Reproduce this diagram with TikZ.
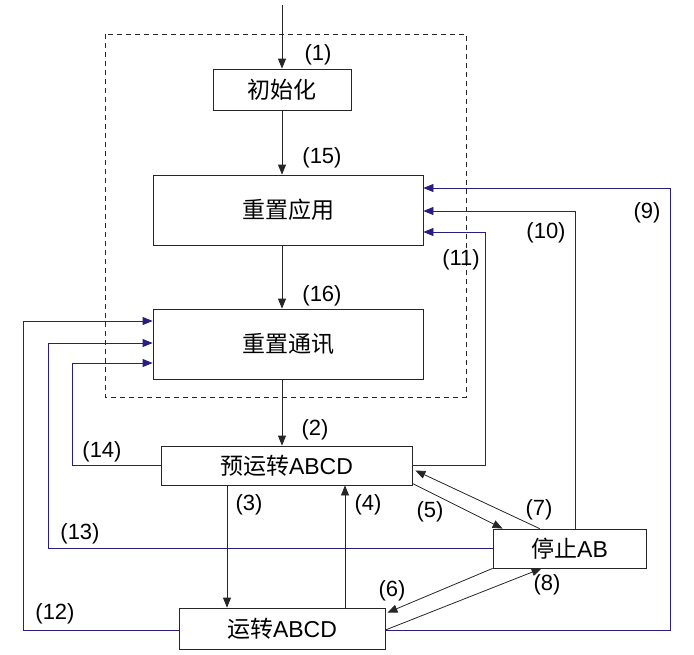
\documentclass[tikz,border=0pt]{standalone}
\usepackage{fontspec}
\setmainfont{Liberation Sans}
\newfontfamily\cjk{Noto Sans CJK SC}
\usetikzlibrary{arrows.meta,calc}
\definecolor{navy}{RGB}{40,30,130}
\begin{document}
\begin{tikzpicture}[x=1pt,y=-1pt,
  box/.style={draw=black!85,line width=0.8pt,inner sep=0pt,font=\fontsize{23}{27}\selectfont},
  lab/.style={inner sep=0pt,font=\fontsize{22}{26}\selectfont},
  arr/.style={draw=black!85,line width=0.8pt,-{Triangle[length=10pt,width=8pt]}},
  blu/.style={draw=navy,line width=0.8pt,-{Triangle[length=10pt,width=8pt]}}]
\useasboundingbox (0,0) rectangle (694,654);
% dashed group
\draw[black!85,line width=0.7pt,dash pattern=on 5pt off 4pt] (105,34) rectangle (466,397);
% boxes
\node[box,minimum width=138pt,minimum height=41pt] (init) at (282,89.5) {\cjk 初始化};
\node[box,minimum width=270pt,minimum height=70pt] (app) at (288,210) {\cjk 重置应用};
\node[box,minimum width=270pt,minimum height=70pt] (comm) at (288,344) {\cjk 重置通讯};
\node[box,minimum width=251pt,minimum height=39pt] (pre) at (286.5,465.5) {{\cjk 预运转}ABCD};
\node[box,minimum width=206pt,minimum height=41pt] (run) at (282,628.5) {{\cjk 运转}ABCD};
\node[box,minimum width=153pt,minimum height=39pt] (stop) at (569.5,548.5) {{\cjk 停止}AB};
% labels
\node[lab] (l1) at (318,55) {(1)};
\node[lab] (l15) at (322,158) {(15)};
\node[lab] (l16) at (322,296) {(16)};
\node[lab] (l2) at (315,430) {(2)};
\node[lab] (l3) at (249,505) {(3)};
\node[lab] (l4) at (368,505) {(4)};
\node[lab] (l5) at (430,512) {(5)};
\node[lab] (l7) at (539,510) {(7)};
\node[lab] (l6) at (392,591) {(6)};
\node[lab] (l8) at (547,585) {(8)};
\node[lab] (l9) at (647,213) {(9)};
\node[lab] (l10) at (546,233) {(10)};
\node[lab] (l11) at (461,260) {(11)};
\node[lab] (l12) at (55,614) {(12)};
\node[lab] (l13) at (80,534) {(13)};
\node[lab] (l14) at (102,452) {(14)};
% coordinates
\coordinate (top) at (282,5);
\coordinate (x3) at (227,0);
\coordinate (x4) at (345,0);
\coordinate (c9) at (670,188);
\coordinate (c10) at (575,211);
\coordinate (c11) at (485,232);
\coordinate (c12) at (23,321);
\coordinate (c13) at (48,343);
\coordinate (c14) at (72,363);
% black arrows
\draw[arr] (top) -- (init.north);
\draw[arr] (init.south) -- (init.south |- app.north);
\draw[arr] (app.south -| init) -- (comm.north -| init);
\draw[arr] (comm.south -| init) -- (pre.north -| init);
\draw[arr] (pre.south -| x3) -- (run.north -| x3);
\draw[arr] (run.north -| x4) -- (pre.south -| x4);
\draw[arr] ([yshift=2pt]pre.south east) -- ([xshift=10pt]stop.north west);
\draw[arr] ([xshift=47pt]stop.north west) -- ([shift={(3pt,-5pt)}]pre.east);
\draw[arr] (stop.south west) -- ([shift={(2pt,-5pt)}]run.north east);
\draw[arr] ([yshift=-1.5pt]run.east) -- ([xshift=49pt]stop.south west);
% blue arrows
\draw[blu] ([yshift=-1.5pt]run.east) -| (c9) -- (app.east |- c9);
\draw[blu] (c10 |- stop.north) -- (c10) -- (app.east |- c10);
\draw[blu] (pre.east) -| (c11) -- (app.east |- c11);
\draw[blu] ([yshift=-1.5pt]run.west) -| (c12) -- (comm.west |- c12);
\draw[blu] (stop.west) -| (c13) -- (comm.west |- c13);
\draw[blu] (pre.west) -| (c14) -- (comm.west |- c14);
\end{tikzpicture}
\end{document}
